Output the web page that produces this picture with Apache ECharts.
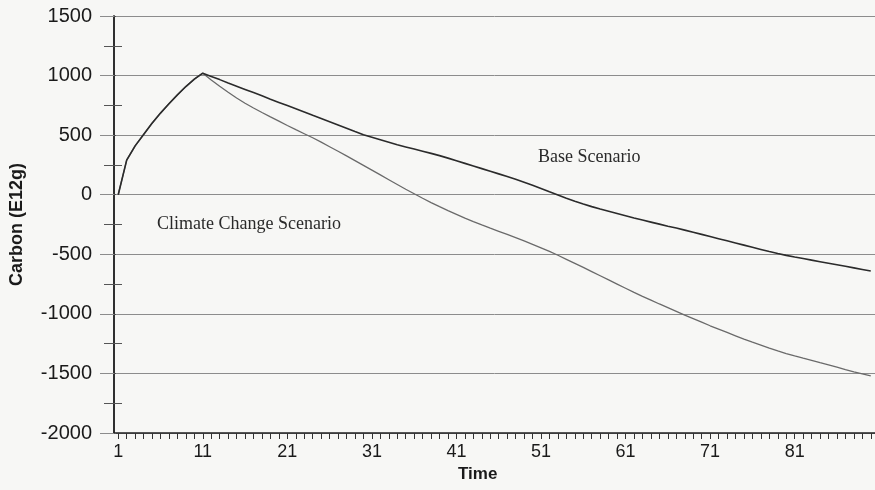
<!DOCTYPE html>
<html>
<head>
<meta charset="utf-8">
<script src="https://cdn.jsdelivr.net/npm/echarts@6/dist/echarts.min.js"></script>
<style>
  html, body { margin: 0; padding: 0; background: #f7f7f5; }
  #chart { width: 875px; height: 490px; }
</style>
</head>
<body>
<div id="chart"></div>
<script>
// time steps 1..90
var timeSteps = []
for (var t = 1; t <= 90; t++) timeSteps.push(String(t))

// carbon (E12g)
var baseScenario = [
  0, 290, 410, 505, 600, 685, 763, 838, 908, 970,
  1020, 993, 966, 938, 911, 884, 857, 830, 802, 775,
  748, 721, 694, 666, 639, 612, 585, 558, 530, 503,
  482, 461, 440, 419, 401, 383, 365, 347, 328, 307,
  285, 263, 241, 219, 197, 175, 153, 130, 105, 79,
  52, 24, -3, -30, -55, -78, -100, -120, -139, -158,
  -177, -196, -213, -230, -247, -264, -280, -297, -315, -333,
  -351, -369, -387, -405, -423, -441, -459, -477, -494, -509,
  -523, -536, -549, -562, -575, -588, -601, -614, -627, -640
]
var climateScenario = [
  0, 290, 410, 505, 600, 685, 763, 838, 908, 970,
  1020, 962, 910, 860, 812, 768, 728, 690, 653, 617,
  581, 546, 512, 478, 441, 403, 365, 326, 286, 246,
  206, 166, 126, 86, 46, 8, -30, -66, -100, -133,
  -165, -197, -226, -254, -281, -307, -333, -360, -388, -417,
  -446, -476, -508, -542, -576, -610, -645, -680, -715, -750,
  -785, -820, -853, -885, -917, -948, -979, -1010, -1040, -1070,
  -1100, -1128, -1156, -1184, -1212, -1238, -1263, -1288, -1311, -1333,
  -1353, -1372, -1390, -1410, -1428, -1448, -1468, -1486, -1503, -1520
]
var yMin = -2000
var yMax = 1500
var yStep = 500

var myChart = echarts.init(document.getElementById('chart'))
var gridColor = '#8c8c8c'
var gridBox = { left: 114, top: 16, bottom: 57, right: -11, containLabel: false }
var option = {
  backgroundColor: '#f7f7f5',
  animation: false,
  // second grid sits on the first one, only to draw the inner half of the y minor ticks
  grid: [gridBox, Object.assign({}, gridBox)],
  xAxis: [{
    type: 'category',
    data: timeSteps,
    boundaryGap: true,
    axisLine: { show: true, onZero: false, lineStyle: { color: '#222', width: 1.5 } },
    axisTick: { show: true, interval: 0, alignWithLabel: true, length: 6, lineStyle: { color: '#333', width: 1 } },
    axisLabel: { interval: 9, margin: 10, fontSize: 18, color: '#1a1a1a', fontFamily: 'Liberation Sans' },
    splitLine: { show: false }
  }, {
    type: 'category',
    gridIndex: 1,
    data: timeSteps,
    axisLine: { show: false },
    axisTick: { show: false },
    axisLabel: { show: false }
  }],
  yAxis: [{
    type: 'value',
    min: yMin,
    max: yMax,
    interval: yStep,
    name: 'Carbon (E12g)',
    nameLocation: 'middle',
    nameGap: 88,
    nameTextStyle: { fontSize: 18, fontWeight: 'bold', color: '#1a1a1a', fontFamily: 'Liberation Sans' },
    axisLine: { show: true, lineStyle: { color: '#222', width: 1.5 } },
    axisTick: { show: true, length: 14, lineStyle: { color: gridColor } },
    minorTick: { show: true, splitNumber: 2, length: 10, lineStyle: { color: '#555' } },
    axisLabel: { margin: 22, fontSize: 20, color: '#1a1a1a', fontFamily: 'Liberation Sans', formatter: function (v) { return String(v) } },
    splitLine: { show: true, lineStyle: { color: gridColor, width: 1 } }
  }, {
    type: 'value',
    gridIndex: 1,
    min: yMin,
    max: yMax,
    interval: yStep,
    axisLine: { show: true, onZero: false, lineStyle: { color: '#222', width: 1.5 } },
    axisTick: { show: true, inside: true, length: 2, lineStyle: { color: '#555' } },
    minorTick: { show: true, splitNumber: 2, length: 8, lineStyle: { color: '#555' } },
    axisLabel: { show: false },
    splitLine: { show: false }
  }],
  graphic: [
    { type: 'text', left: 458, top: 466, style: { text: 'Time', fontSize: 17, fontWeight: 'bold', fill: '#1a1a1a', fontFamily: 'Liberation Sans' } },
    { type: 'text', left: 538, top: 148, style: { text: 'Base Scenario', fontSize: 18, fill: '#2a2a2a', fontFamily: 'Liberation Serif' } },
    { type: 'text', left: 157, top: 215, style: { text: 'Climate Change Scenario', fontSize: 18, fill: '#2a2a2a', fontFamily: 'Liberation Serif' } }
  ],
  series: [{
    name: 'Climate Change Scenario',
    type: 'line',
    data: climateScenario,
    showSymbol: false,
    lineStyle: { color: '#6a6a6a', width: 1.3 },
    z: 3
  }, {
    name: 'Base Scenario',
    type: 'line',
    data: baseScenario,
    showSymbol: false,
    lineStyle: { color: '#2b2b2b', width: 1.6 },
    z: 4
  }]
}
myChart.setOption(option)
</script>
</body>
</html>
